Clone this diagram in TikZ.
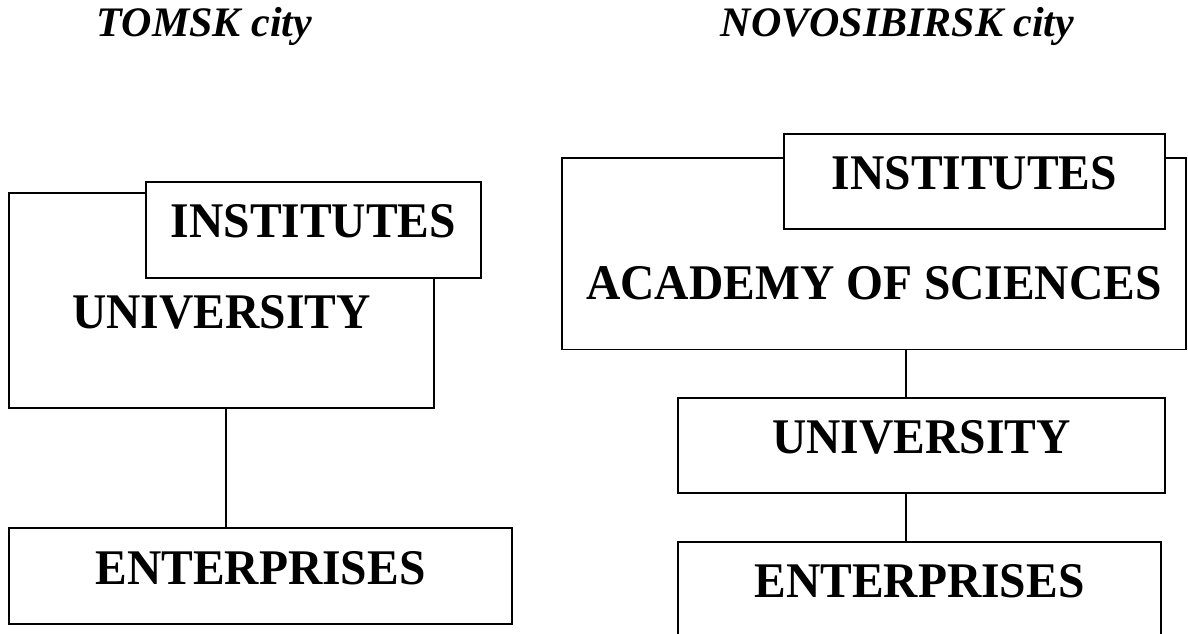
\documentclass[tikz,border=0pt]{standalone}
\usepackage{fontspec}
\usepackage{graphicx}
\setmainfont{Liberation Serif}
\newcommand{\tallbox}[1]{\scalebox{1}[1.05]{#1}}
\begin{document}
\begin{tikzpicture}[x=1pt,y=-1pt,
  boxtext/.style={draw=black, line width=1.6pt, fill=white, inner sep=0pt, outer sep=0pt,
    anchor=north west, align=center, font=\fontsize{47.5}{56}\selectfont\bfseries},
  title/.style={anchor=base, inner sep=0pt, font=\fontsize{42}{50}\selectfont\bfseries\itshape},
  conn/.style={draw=black, line width=1.4pt}]
\useasboundingbox (0,0) rectangle (1188,634);
\clip (0,0) rectangle (1188,634);
% titles
\node[title] (tomsk) at (204.5,37) {TOMSK city};
\node[title] (novo) at (897.5,37) {NOVOSIBIRSK city};
% left: Tomsk
\node[boxtext, minimum width=425pt, text height=135.3pt, text depth=80pt] (univL) at (9,192.7) {\tallbox{UNIVERSITY}};
\node[boxtext, minimum width=335pt, text height=55pt, text depth=41pt] (instL) at (146,182) {\tallbox{INSTITUTES}};
\node[boxtext, minimum width=503pt, text height=56pt, text depth=40pt] (entL) at (9,528) {\tallbox{ENTERPRISES}};
\draw[conn] ([xshift=217pt]univL.south west) -- ([xshift=217pt]entL.north west);
% right: Novosibirsk
\node[boxtext, minimum width=624pt, text height=141pt, text depth=50.5pt] (acad) at (562,158) {\tallbox{ACADEMY OF SCIENCES}};
\node[boxtext, minimum width=381pt, text height=55pt, text depth=40pt] (instR) at (784,134) {\tallbox{INSTITUTES}};
\node[boxtext, minimum width=487pt, text height=55pt, text depth=40pt] (univR) at (678,398) {\tallbox{UNIVERSITY}};
\node[boxtext, minimum width=483pt, text height=55pt, text depth=63pt] (entR) at (678,542) {\tallbox{ENTERPRISES}};
\draw[conn] ([xshift=344pt]acad.south west) -- ([xshift=228pt]univR.north west);
\draw[conn] ([xshift=228pt]univR.south west) -- ([xshift=228pt]entR.north west);
\end{tikzpicture}
\end{document}
